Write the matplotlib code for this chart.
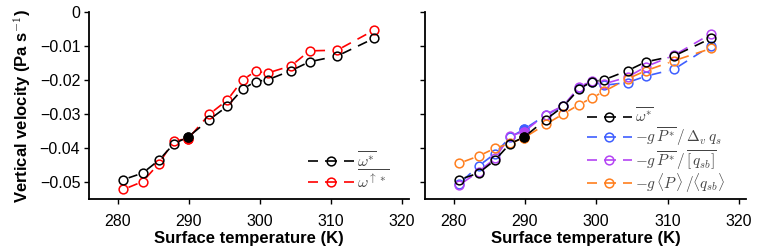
import numpy as np
import matplotlib
matplotlib.use('Agg')
import matplotlib.pyplot as plt

plt.rcParams['font.family'] = ['Liberation Sans', 'DejaVu Sans']
plt.rcParams['mathtext.fontset'] = 'cm'

# Data
t_surf = [280.8, 283.5, 285.8, 287.9, 289.9, 292.9, 295.4, 297.6, 299.4, 301.1, 304.4, 307.0, 310.9, 316.1]
omega = [-0.0493, -0.0474, -0.0436, -0.0388, -0.0368, -0.0317, -0.0278, -0.0227, -0.0205, -0.0200,
         -0.0173, -0.0147, -0.0130, -0.0078]
omega_up = [-0.0522, -0.0499, -0.0446, -0.0379, -0.0373, -0.0301, -0.0260, -0.0200, -0.0175, -0.0180,
            -0.0159, -0.0115, -0.0113, -0.0054]
p_dq = [-0.0505, -0.0453, -0.0417, -0.0369, -0.0345, -0.0304, -0.0277, -0.0224, -0.0207, -0.0216,
        -0.0208, -0.0189, -0.0169, -0.0100]
p_qsb = [-0.0509, -0.0470, -0.0431, -0.0365, -0.0352, -0.0302, -0.0276, -0.0221, -0.0203, -0.0212,
         -0.0192, -0.0161, -0.0128, -0.0065]
p_mean = [-0.0445, -0.0424, -0.0401, -0.0387, -0.0370, -0.0331, -0.0300, -0.0273, -0.0253, -0.0234,
          -0.0197, -0.0173, -0.0144, -0.0108]
ref_idx = 4  # filled reference point

lab_omega = r'$\overline{\omega^{*}}$'
lab_omega_up = r'$\overline{\omega^{\uparrow *}}$'
lab_dq = r'$-g\,\overline{P^{*}}\,/\,\Delta_v\,q_s$'
lab_qsb = r'$-g\,\overline{P^{*}}\,/\,\overline{[\,q_{sb}]}$'
lab_mean = r'$-g\,\langle P\,\rangle\,/\langle q_{sb}\rangle$'

DASH = (6, 4.5)
LEG_DASH = (6.0, 4.2, 7.2, 4.2)  # dash - circle - dash look in legend
GAP = 5.5  # px gap between line and circle (R type="b")


def style_axes(ax, ylabels=True):
    ax.set_xlim(276, 321)
    ax.set_ylim(-0.055, 0)
    ax.set_xticks([280, 290, 300, 310, 320])
    ax.set_yticks([0, -0.01, -0.02, -0.03, -0.04, -0.05])
    ax.set_yticklabels(['0', '\u22120.01', '\u22120.02', '\u22120.03', '\u22120.04', '\u22120.05']
                       if ylabels else [])
    for s in ['top', 'right']:
        ax.spines[s].set_visible(False)
    for s in ['left', 'bottom']:
        ax.spines[s].set_linewidth(1.3)
    ax.tick_params(direction='out', length=3.5, width=1, labelsize=11.5)
    ax.tick_params(axis='x', pad=7)
    ax.tick_params(axis='y', pad=3)
    ax.set_xlabel('Surface temperature (K)', fontsize=12, fontweight='bold', labelpad=2)


def series(ax, x, y, color, label):
    pts = ax.transData.transform(np.column_stack([x, y]))
    inv = ax.transData.inverted()
    for p0, p1 in zip(pts[:-1], pts[1:]):
        d = p1 - p0
        L = np.hypot(*d)
        if L <= 2 * GAP + 1:
            continue
        u = d / L
        seg = inv.transform(np.array([p0 + u * GAP, p1 - u * GAP]))
        ax.plot(seg[:, 0], seg[:, 1], color=color, lw=1.2, dashes=DASH)
    ax.plot(x, y, ls='none', marker='o', ms=6.3, mfc='none', mec=color, mew=1.1)
    ax.plot([x[ref_idx]], [y[ref_idx]], ls='none', marker='o', ms=6.3, mfc=color, mec=color, mew=1.1)
    # legend proxy
    ax.plot([], [], color=color, lw=1.2, dashes=LEG_DASH, marker='o', ms=6.3, mfc='none',
            mec=color, mew=1.1, label=label)


fig = plt.figure(figsize=(7.58, 2.49), dpi=100)
ax1 = fig.add_axes([0.1178, 0.2008, 0.4218, 0.7522])
ax2 = fig.add_axes([0.5607, 0.2008, 0.4235, 0.7522])
style_axes(ax1)
style_axes(ax2, ylabels=False)
ax1.set_ylabel('Vertical velocity (Pa s$^{\\mathbf{-1}}$)', fontsize=12, fontweight='bold', labelpad=5)

series(ax1, t_surf, omega_up, '#ff0000', lab_omega_up)
series(ax1, t_surf, omega, 'black', lab_omega)

series(ax2, t_surf, p_dq, '#3f5fff', lab_dq)
series(ax2, t_surf, p_qsb, '#b444f4', lab_qsb)
series(ax2, t_surf, p_mean, '#ff7f1e', lab_mean)
series(ax2, t_surf, omega, 'black', lab_omega)

h, l = ax1.get_legend_handles_labels()
leg1 = ax1.legend([h[1], h[0]], [l[1], l[0]], loc='lower right', bbox_to_anchor=(0.96, 0.01),
                  frameon=False, fontsize=11.5, handlelength=2.88, handletextpad=0.2,
                  labelspacing=-0.1, borderaxespad=0.0)
h, l = ax2.get_legend_handles_labels()
order = [3, 0, 1, 2]
leg2 = ax2.legend([h[i] for i in order], [l[i] for i in order], loc='lower right',
                  bbox_to_anchor=(0.955, -0.01), frameon=False, fontsize=11, handlelength=3.0,
                  handletextpad=0.2, labelspacing=0.0, borderaxespad=0.0)
for leg in (leg1, leg2):
    for t in leg.get_texts():
        t.set_color('#444444')

fig.savefig('out.png', dpi=100)
